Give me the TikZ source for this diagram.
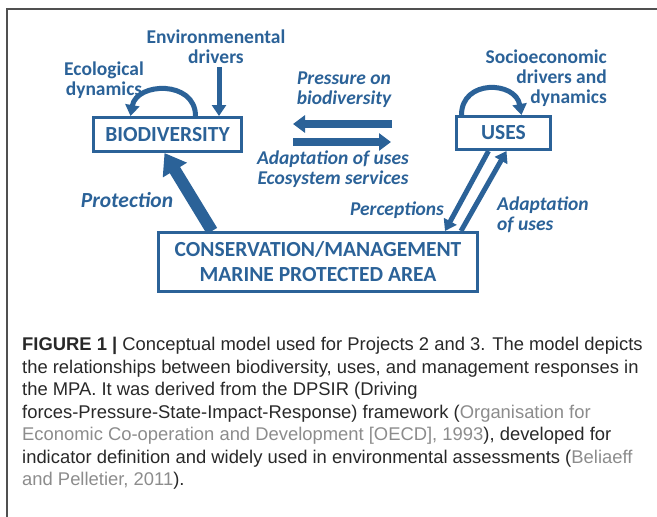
\documentclass[tikz,border=0pt]{standalone}
\usepackage{fontspec}
\newfontfamily\diagfont{Carlito}
\newfontfamily\capfont{Liberation Sans}
\usetikzlibrary{arrows.meta}
\definecolor{mpablue}{RGB}{43,98,152}
\definecolor{capgray}{RGB}{140,140,140}
\definecolor{captext}{RGB}{40,40,40}
\definecolor{framegray}{RGB}{80,80,80}

\tikzset{
  box/.style={draw=mpablue, line width=3pt, text=mpablue, inner sep=0pt, align=center,
    font=\diagfont\bfseries\fontsize{21.5}{25}\selectfont},
  lab/.style={text=mpablue, inner sep=0pt, align=center,
    font=\diagfont\bfseries\fontsize{19.5}{20}\selectfont},
  ilab/.style={lab, font=\diagfont\bfseries\itshape\fontsize{19.5}{20}\selectfont},
  thin arrow/.style={draw=mpablue, line width=5pt, -{Triangle[width=14pt,length=11pt]}},
  flow arrow/.style={draw=mpablue, line width=8pt, -{Triangle[width=17pt,length=12pt]}},
  prot arrow/.style={draw=mpablue, line width=12pt, -{Triangle[width=27pt,length=20pt]}},
  caption/.style={text=captext, inner sep=0pt, align=left,
    font=\capfont\fontsize{18.4}{22.5}\selectfont}
}

\begin{document}
\begin{tikzpicture}[x=1pt,y=-1pt]
        \useasboundingbox (0,0) rectangle (657,517);

        % Cadre
        \draw[framegray, line width=2pt] (7,517) -- (7,9) -- (657,9);

        % Boites
        \node[box, minimum width=148pt, minimum height=34pt] (bio) at (167.5,134.5) {BIODIVERSITY};
        \node[box, minimum width=94pt, minimum height=33pt] (uses) at (503.5,133) {USES};
        \node[box, minimum width=319pt, minimum height=59pt] (cons) at (318,262)
            {CONSERVATION/MANAGEMENT\\MARINE PROTECTED AREA};

        % Etiquettes
        \node[lab] (env) at (216,47) {Environmenental\\drivers};
        \node[lab] (eco) at (104,80) {Ecological\\dynamics};
        \node[lab, anchor=east, align=right] (socio) at (607,78) {Socioeconomic\\drivers and\\dynamics};
        \node[ilab] (press) at (344,90) {Pressure on\\biodiversity};
        \node[ilab] (adapt) at (333,169) {Adaptation of uses\\Ecosystem services};
        \node[ilab, font=\diagfont\bfseries\itshape\fontsize{21.5}{22}\selectfont] (prot) at (127,200) {Protection};
        \node[ilab] (perc) at (397,210) {Perceptions};
        \node[ilab, anchor=west, align=left] (adaptu) at (497,215) {Adaptation\\of uses};

        % Fleches
        \coordinate (envtop) at (219,67);
        \draw[thin arrow] (envtop) -- (envtop |- bio.north);
        \draw[thin arrow] ([xshift=28pt]bio.north) .. controls +(0,-36) and +(6,-34) .. ([xshift=-37pt]bio.north);
        \draw[thin arrow] ([xshift=-42pt]uses.north) .. controls +(0,-36) and +(-6,-34) .. ([xshift=18pt]uses.north);

        \coordinate (pressR) at (392,124);
        \coordinate (pressL) at (293,124);
        \coordinate (adaptL) at (293,142);
        \coordinate (adaptR) at (391,142);
        \draw[flow arrow] (pressR) -- (pressL);
        \draw[flow arrow] (adaptL) -- (adaptR);

        \draw[prot arrow] ([xshift=-106pt]cons.north) -- ([xshift=-3pt]bio.south);
        \draw[thin arrow] ([xshift=-15pt]uses.south) -- ([xshift=127pt]cons.north);
        \draw[thin arrow] ([xshift=143pt]cons.north) -- ([xshift=3pt]uses.south);

        % Legende
        \node[caption, anchor=north west] (cap) at (22,337)
            {{\bfseries FIGURE 1 |} Conceptual model used for Projects 2 and 3. The model depicts\\
             the relationships between biodiversity, uses, and management responses in\\
             the MPA. It was derived from the DPSIR (Driving\\
             forces-Pressure-State-Impact-Response) framework ({\color{capgray}Organisation for}\\
             {\color{capgray}Economic Co-operation and Development [OECD], 1993}), developed for\\
             indicator definition and widely used in environmental assessments ({\color{capgray}Beliaeff}\\
             {\color{capgray}and Pelletier, 2011}).};

    \end{tikzpicture}
\end{document}
